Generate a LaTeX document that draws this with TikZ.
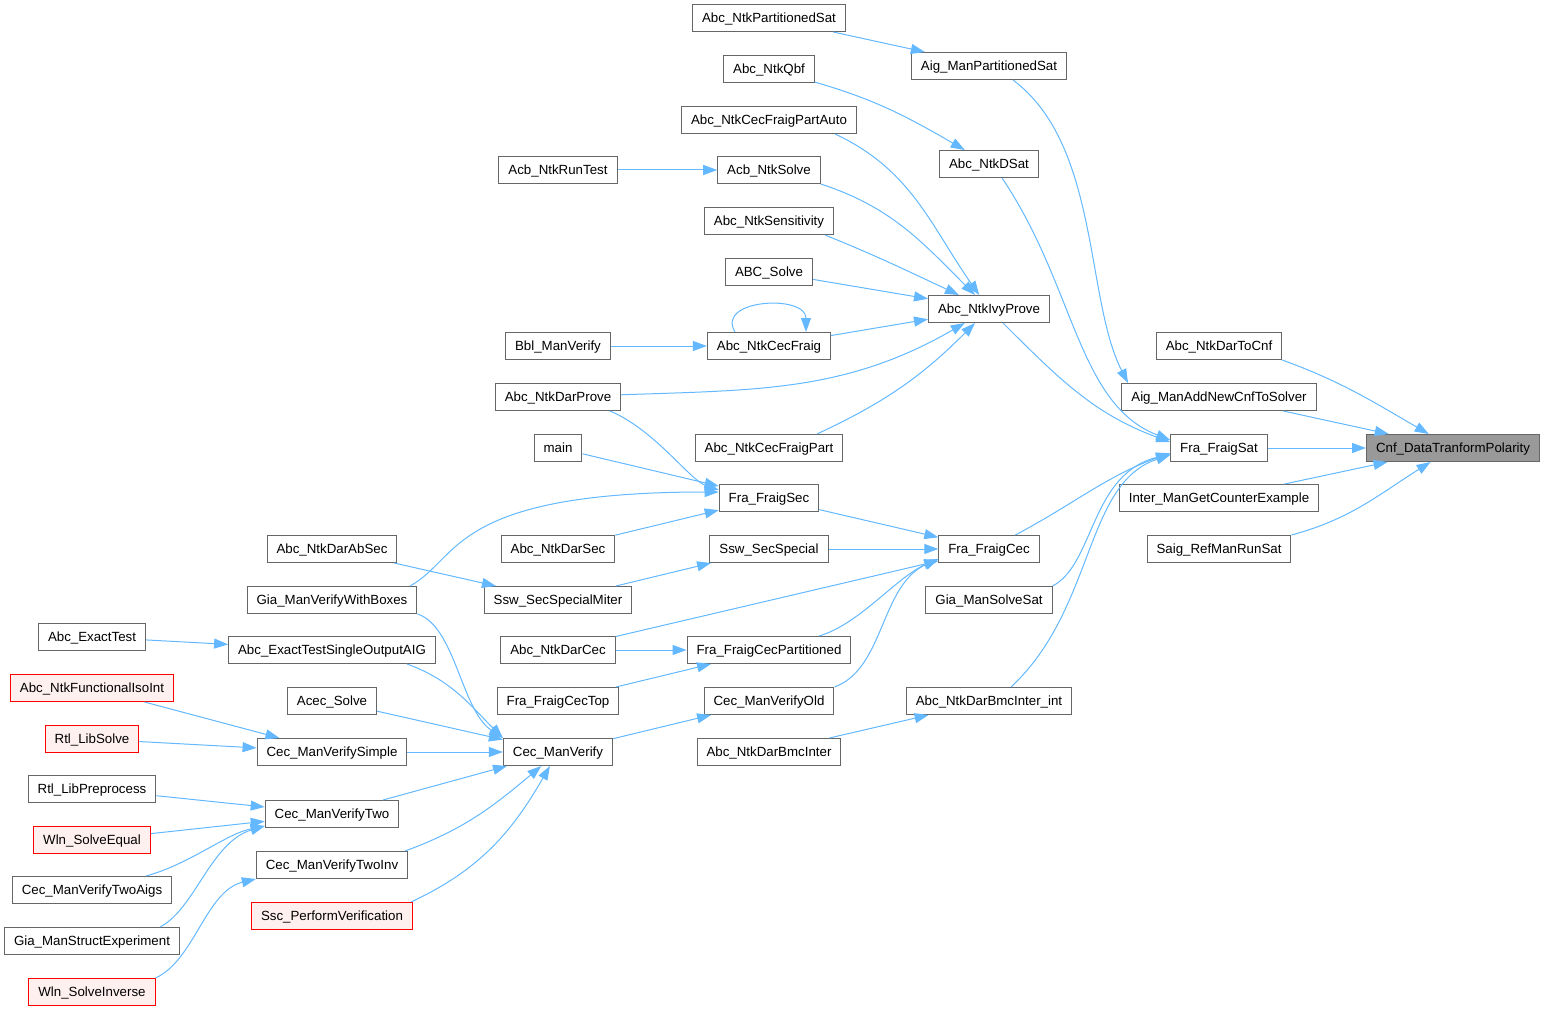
\documentclass[tikz,border=0pt]{standalone}
\usepackage{fontspec}
\setmainfont{Liberation Sans}
\usetikzlibrary{arrows.meta}
\definecolor{sky}{RGB}{99,184,255}
\definecolor{frame}{RGB}{102,102,102}
\definecolor{shade}{RGB}{153,153,153}
\definecolor{alert}{RGB}{255,0,0}
\definecolor{blush}{RGB}{255,240,240}
\begin{document}
\begin{tikzpicture}[x=1pt,y=-1pt,>={Triangle[length=14pt,width=10pt]},
fn/.style={draw=frame,fill=white,line width=1pt,minimum height=27pt,inner xsep=9.5pt,inner ysep=0pt,text height=11pt,text depth=2pt,font=\fontsize{13.3}{16}\selectfont},
rn/.style={fn,draw=alert,fill=blush}, hn/.style={fn,fill=shade},
ed/.style={->,sky,line width=1pt}]
\useasboundingbox (0,0) rectangle (1545,1011);
\foreach \n/\x/\y/\lbl in {aet/92/637/Abc\_ExactTest, rlp/92/789/Rtl\_LibPreprocess, cvta/92/890/Cec\_ManVerifyTwoAigs,
gmse/92/941/Gia\_ManStructExperiment, ndas/332/549/Abc\_NtkDarAbSec, gmvb/332/600/Gia\_ManVerifyWithBoxes,
aetso/332/650/Abc\_ExactTestSingleOutputAIG, aces/332/701/Acec\_Solve, cvs/332/752/Cec\_ManVerifySimple,
cvt/332/814/Cec\_ManVerifyTwo, cvti/332/865/Cec\_ManVerifyTwoInv, rtest/558/170/Acb\_NtkRunTest,
bbl/558/346/Bbl\_ManVerify, ndp/558/397/Abc\_NtkDarProve, main/558/448/main, nds/558/549/Abc\_NtkDarSec,
sssm/558/600/Ssw\_SecSpecialMiter, ndc/558/650/Abc\_NtkDarCec, fct/558/701/Fra\_FraigCecTop, cmv/558/752/Cec\_ManVerify,
nps/769/18/Abc\_NtkPartitionedSat, qbf/769/69/Abc\_NtkQbf, cfpa/769/120/Abc\_NtkCecFraigPartAuto, asol/769/170/Acb\_NtkSolve,
sens/769/221/Abc\_NtkSensitivity, absol/769/272/ABC\_Solve, cfr/769/346/Abc\_NtkCecFraig, cfp/769/448/Abc\_NtkCecFraigPart,
fsec/769/498/Fra\_FraigSec, sss/769/549/Ssw\_SecSpecial, fcp/769/650/Fra\_FraigCecPartitioned, cvo/769/701/Cec\_ManVerifyOld,
dbi/769/752/Abc\_NtkDarBmcInter, mps/989/66/Aig\_ManPartitionedSat, dsat/989/164/Abc\_NtkDSat, ivy/989/309/Abc\_NtkIvyProve,
fcec/989/549/Fra\_FraigCec, gss/989/600/Gia\_ManSolveSat, dbii/989/701/Abc\_NtkDarBmcInter\_int,
dtc/1219/346/Abc\_NtkDarToCnf, amnc/1219/397/Aig\_ManAddNewCnfToSolver, fsat/1219/448/Fra\_FraigSat,
igce/1219/498/Inter\_ManGetCounterExample, srms/1219/549/Saig\_RefManRunSat}
{\node[fn] (\n) at (\x,\y) {\lbl};}
\foreach \n/\x/\y/\lbl in {nfi/92/688/Abc\_NtkFunctionalIsoInt, rls/92/739/Rtl\_LibSolve, wse/92/840/Wln\_SolveEqual,
wsi/92/992/Wln\_SolveInverse, spv/332/916/Ssc\_PerformVerification}
{\node[rn] (\n) at (\x,\y) {\lbl};}
\node[hn] (cnf) at (1453,448) {Cnf\_DataTranformPolarity};
\foreach \a/\b in {amnc/cnf, fsat/cnf, igce/cnf, nps/mps, rtest/asol, bbl/cfr, absol/ivy, cfr/ivy, main/fsec, nds/fsec,
fsec/fcec, sss/fcec, ndc/fcec, ndas/sssm, sssm/sss, ndc/fcp, fct/fcp, cmv/cvo, dbi/dbii, aet/aetso, aces/cmv, cvs/cmv,
cvt/cmv, nfi/cvs, rls/cvs, rlp/cvt, wse/cvt}{\draw[ed] (\a) -- (\b);}
\draw[ed] (dtc.south east) to[out=-20,in=150] (cnf);
\draw[ed] (srms.north east) to[out=15,in=-148] (cnf);
\draw[ed] (ivy) to[out=-45,in=160] ([yshift=6pt]fsat.west);
\draw[ed] ([xshift=13pt]dsat.south) .. controls +(73,108) and +(-93,-36) .. ([yshift=8pt]fsat.west);
\draw[ed] (fcec) to[out=28,in=-160] ([yshift=-5pt]fsat.west);
\draw[ed] (gss.north east) .. controls +(42,-22) and +(-80,20) .. ([yshift=-6pt]fsat.west);
\draw[ed] ([xshift=22pt]dbii.north) .. controls +(84,-78) and +(-86,28) .. ([yshift=-7pt]fsat.west);
\draw[ed] ([xshift=24pt]mps.south) .. controls +(87,65) and +(-43,-84) .. ([xshift=-91pt]amnc.north);
\draw[ed] (qbf) to[out=-16,in=150] (dsat);
\draw[ed] ([xshift=66pt]cfpa.south) to[out=-25,in=125] (ivy);
\draw[ed] (asol.south east) to[out=-18,in=135] (ivy);
\draw[ed] ([xshift=56pt]sens.south) to[out=-22,in=155] (ivy);
\draw[ed] (ndp) to[out=2,in=-150] (ivy);
\draw[ed] ([xshift=48pt]cfp.north) to[out=25,in=-135] (ivy);
\draw[ed] ([xshift=-34pt]cfr.north) .. controls +(-20,-33) and +(0,-38) .. ([xshift=37pt]cfr.north);
\draw[ed] ([xshift=52pt]ndp.south) .. controls +(45,19) and +(-29,-10) .. ([yshift=8pt]fsec.west);
\draw[ed] ([xshift=78pt]gmvb.north) .. controls +(50,-27) and +(-269,0) .. ([yshift=6pt]fsec.west);
\draw[ed] (gmvb.south east) .. controls +(38,12) and +(-42,-28) .. (cmv.north west);
\draw[ed] ([xshift=75pt]aetso.south) to[out=-20,in=135] (cmv.north west);
\draw[ed] ([xshift=73pt]cvti.north) to[out=20,in=-140] (cmv);
\draw[ed] ([xshift=79pt]spv.north) to[out=25,in=-120] (cmv);
\draw[ed] ([xshift=50pt]fcp.north) .. controls +(41,-12) and +(-42,18) .. ([yshift=-10pt]fcec.west);
\draw[ed] (cvo.north east) .. controls +(50,-18) and +(-58,26) .. ([yshift=-10pt]fcec.west);
\draw[ed] ([xshift=54pt]cvta.north) .. controls +(44,-12) and +(-39,8) .. ([yshift=2pt]cvt.south west);
\draw[ed] ([xshift=68pt]gmse.north) .. controls +(35,-18) and +(-54,16) .. ([yshift=2pt]cvt.south west);
\draw[ed] (wsi.north east) .. controls +(39,-18) and +(-50,12) .. (cvti.south west);
\end{tikzpicture}
\end{document}
